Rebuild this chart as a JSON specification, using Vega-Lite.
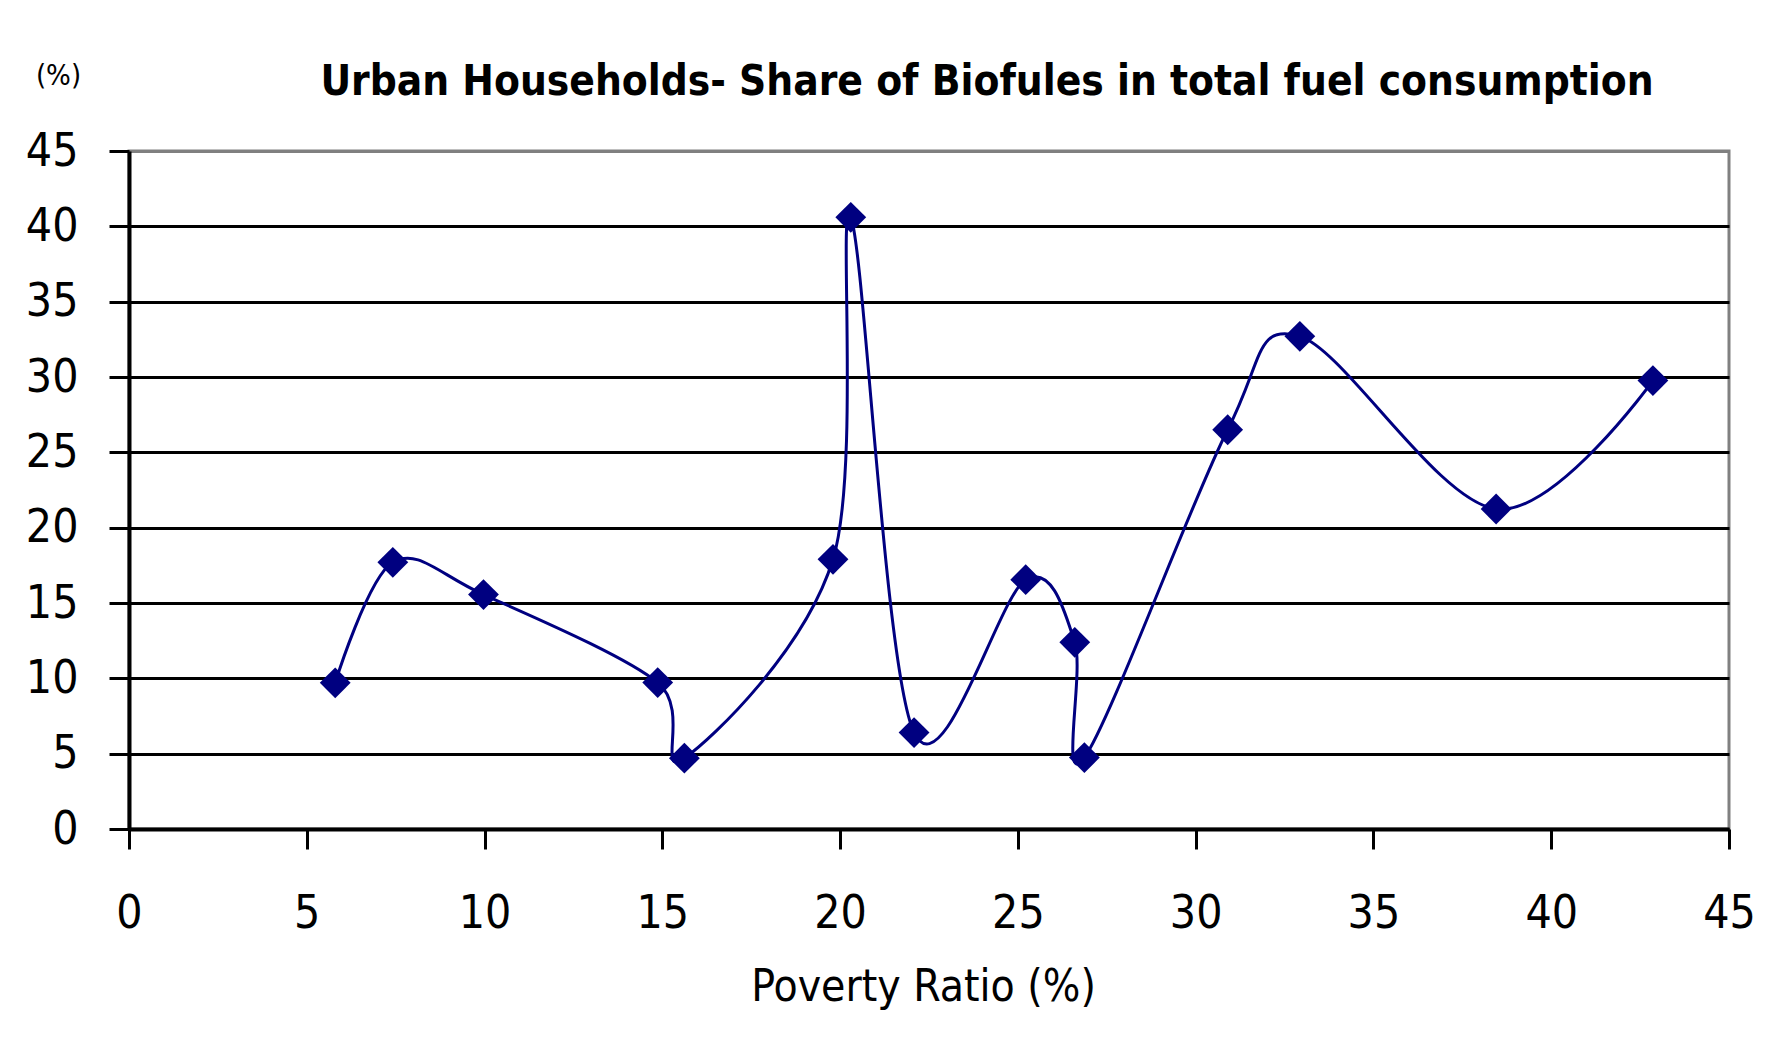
{
  "$schema": "https://vega.github.io/schema/vega-lite/v6.json",
  "width": 1600,
  "height": 678,
  "autosize": {"type": "none"},
  "padding": {"left": 129, "top": 151, "right": 55, "bottom": 227},
  "background": "white",
  "title": {
    "text": "Urban Households- Share of Biofules in total fuel consumption",
    "font": "DejaVu Sans Condensed, DejaVu Sans, sans-serif",
    "fontSize": 42,
    "fontWeight": "bold",
    "color": "black",
    "anchor": "middle",
    "frame": "group",
    "dx": 58,
    "baseline": "alphabetic",
    "offset": 0,
    "dy": 76
  },
  "data": {
    "values": [
      {"ratio": 5.8, "share": 9.7},
      {"ratio": 7.42, "share": 17.7},
      {"ratio": 9.97, "share": 15.56},
      {"ratio": 14.87, "share": 9.72},
      {"ratio": 15.62, "share": 4.7},
      {"ratio": 19.8, "share": 17.9},
      {"ratio": 20.3, "share": 40.6},
      {"ratio": 22.08, "share": 6.4},
      {"ratio": 25.22, "share": 16.55},
      {"ratio": 26.6, "share": 12.39},
      {"ratio": 26.87, "share": 4.74},
      {"ratio": 30.9, "share": 26.5},
      {"ratio": 32.93, "share": 32.7},
      {"ratio": 38.45, "share": 21.24},
      {"ratio": 42.86, "share": 29.76}
    ]
  },
  "encoding": {
    "x": {
      "field": "ratio",
      "type": "quantitative",
      "scale": {"domain": [0, 45], "nice": false, "zero": false},
      "axis": {
        "title": "Poverty Ratio (%)",
        "values": [0, 5, 10, 15, 20, 25, 30, 35, 40, 45],
        "grid": false,
        "domainColor": "black",
        "domainWidth": 4,
        "tickColor": "black",
        "tickWidth": 3,
        "tickSize": 20,
        "labelPadding": 42,
        "labelFontSize": 46,
        "labelFont": "DejaVu Sans Condensed, DejaVu Sans, sans-serif",
        "labelColor": "black",
        "labelFlush": false,
        "labelOverlap": false,
        "titleFont": "DejaVu Sans Condensed, DejaVu Sans, sans-serif",
        "titleFontSize": 44,
        "titleFontWeight": "normal",
        "titleColor": "black",
        "titleBaseline": "alphabetic",
        "titleX": 794,
        "titleY": 171
      }
    },
    "y": {
      "field": "share",
      "type": "quantitative",
      "scale": {"domain": [0, 45], "nice": false},
      "axis": {
        "title": "(%)",
        "titleAngle": 0,
        "titleAlign": "center",
        "titleBaseline": "alphabetic",
        "titleX": -71,
        "titleY": -67,
        "titleFont": "DejaVu Sans Condensed, DejaVu Sans, sans-serif",
        "titleFontSize": 29,
        "titleFontWeight": "normal",
        "titleColor": "black",
        "values": [0, 5, 10, 15, 20, 25, 30, 35, 40, 45],
        "grid": true,
        "gridColor": {"condition": {"test": "datum.value === 45", "value": "#808080"}, "value": "black"},
        "gridWidth": 3,
        "gridOpacity": 1,
        "domainColor": "black",
        "domainWidth": 4,
        "tickColor": "black",
        "tickWidth": 3,
        "tickSize": 20,
        "labelPadding": 31,
        "labelFontSize": 46,
        "labelFont": "DejaVu Sans Condensed, DejaVu Sans, sans-serif",
        "labelColor": "black",
        "labelFlush": false,
        "labelOverlap": false
      }
    }
  },
  "layer": [
    {
      "mark": {"type": "line", "interpolate": "cardinal", "color": "#000080", "strokeWidth": 3}
    },
    {
      "mark": {"type": "point", "shape": "diamond", "filled": true, "color": "#000080", "size": 950, "opacity": 1}
    }
  ],
  "config": {
    "view": {"stroke": "#808080", "strokeWidth": 3}
  }
}
